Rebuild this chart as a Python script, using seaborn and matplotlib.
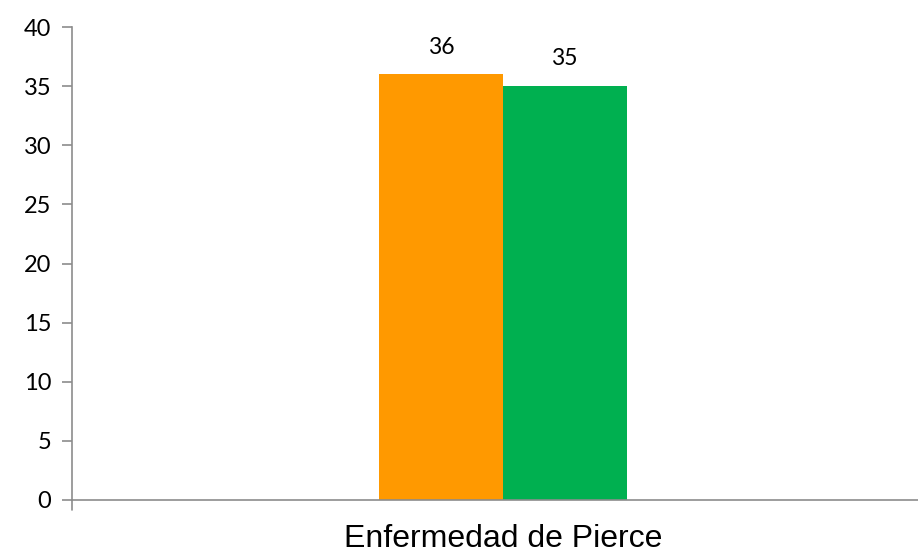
import matplotlib
matplotlib.use("Agg")
import matplotlib.pyplot as plt
import seaborn as sns
import pandas as pd

# data
categories = ["Enfermedad de Pierce"]
series = ["Serie 1", "Serie 2"]
values = [36, 35]
colors = ["#FF9900", "#00B050"]

df = pd.DataFrame({"categoria": categories * 2, "serie": series, "valor": values})

sns.set_style("white")
plt.rcParams['font.family'] = ['Lato', 'DejaVu Sans']

fig = plt.figure(figsize=(9.18, 5.58), dpi=100)
ax = fig.add_axes([72 / 918, 58 / 558, 846 / 918, 473 / 558])

sns.barplot(data=df, x="categoria", y="valor", hue="serie", palette=colors,
            width=0.292, saturation=1, linewidth=0, ax=ax, legend=False)

# labels on bars
for cont in ax.containers:
    ax.bar_label(cont, labels=[str(int(v)) for v in cont.datavalues],
                 padding=12, fontsize=16.5, color="black")

ax.set_ylim(0, 40)
ax.set_yticks(range(0, 41, 5))
ax.set_xlim(-(503 - 72) / 846, (918 - 503) / 846)
ax.set_xticks([])
ax.set_xlabel("Enfermedad de Pierce", fontsize=23, family="Liberation Sans",
              color="black")
# center the category name under the bars, like the reference
ax.xaxis.set_label_coords((503 - 72) / 846, -0.05, transform=ax.transAxes)
ax.xaxis.label.set_va("top")
ax.set_ylabel("")

for s in ["top", "right"]:
    ax.spines[s].set_visible(False)
for s in ["left", "bottom"]:
    ax.spines[s].set_color("#8c8c8c")
    ax.spines[s].set_linewidth(1.2)

ax.tick_params(axis="y", left=True, length=7, width=1.2, color="#8c8c8c",
               labelsize=17, pad=8, labelcolor="black")
# small tick below origin
ax.plot([0, 0], [0, -0.022], transform=ax.transAxes, color="#8c8c8c",
        lw=1.2, clip_on=False)

fig.savefig("out.png", dpi=100)
